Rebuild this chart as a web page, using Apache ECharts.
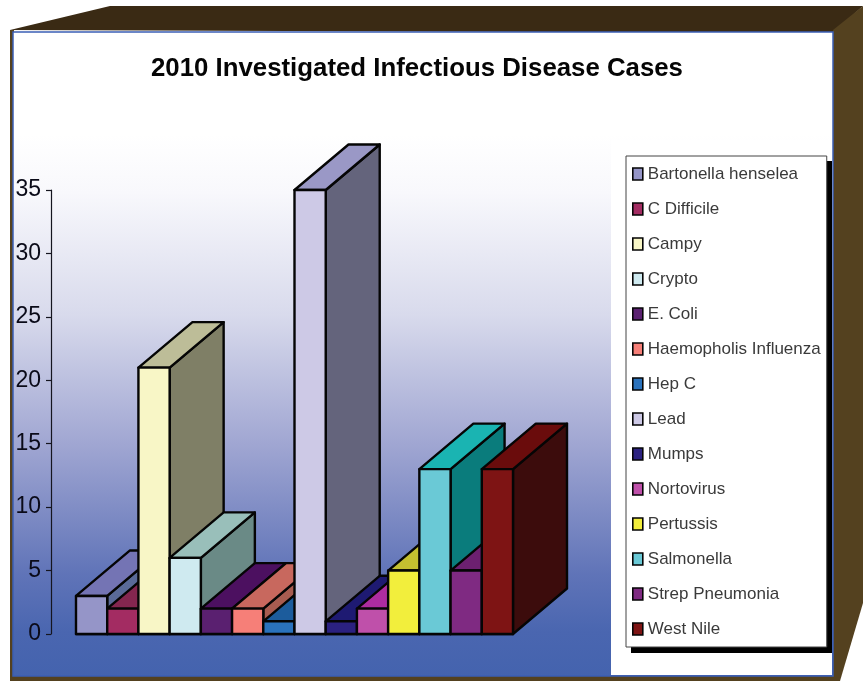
<!DOCTYPE html>
<html><head><meta charset="utf-8">
<style>html,body{margin:0;padding:0;background:#fff}#c{width:864px;height:681px}</style>
<script src="https://cdn.jsdelivr.net/npm/echarts@6/dist/echarts.min.js"></script>
</head><body><div id="c"></div>
<script>
const categories = ['Bartonella henselea','C Difficile','Campy','Crypto','E. Coli','Haemopholis Influenza','Hep C','Lead','Mumps','Nortovirus','Pertussis','Salmonella','Strep Pneumonia','West Nile'];
const values = [3,2,21,6,2,2,1,35,1,2,5,13,5,13];
const yTicks = {min:0,max:35,interval:5};
const frontColors = ['#9595c8','#a32c62','#f8f6c6','#cfeaf0','#5a2070','#f67f78','#2a72bc','#cdc9e6','#2b2180','#bf50aa','#f2ee3c','#6ac9d6','#7f2a82','#7e1414'];
const topColors   = ['#7474b4','#84264f','#bdbd98','#99bfba','#4c1060','#c8685e','#1c5c9c','#9a98c6','#1e1a72','#ad2ca0','#c4c030','#1ab4b2','#6c2070','#6a0c0c'];
const sideColors  = ['#5a6a98','#6b2040','#7f7f66','#6a8a86','#3c0c4c','#a85c50','#18508a','#64647c','#1a1660','#8a2480','#9c9828','#0a7c7c','#561a5a','#3c0c0c'];
const depthX = 54, depthY = 45.5;

const chart = echarts.init(document.getElementById('c'), null, {renderer:'canvas'});
const font = '"Liberation Sans", Arial, sans-serif';
function bar(params, api){
  const i = params.seriesIndex;
  const w = api.size([1,0])[0];
  const base = api.coord([api.value(0),0]);
  const top = api.coord([api.value(0),api.value(1)]);
  const l = base[0]-w/2, r = base[0]+w/2, b = base[1], t = top[1];
  const line = {stroke:'#050505',lineWidth:2.4,lineJoin:'round'};
  return {type:'group',children:[
    {type:'polygon',shape:{points:[[r,b],[r+depthX,b-depthY],[r+depthX,t-depthY],[r,t]]},style:Object.assign({fill:sideColors[i]},line)},
    {type:'polygon',shape:{points:[[l,t],[l+depthX,t-depthY],[r+depthX,t-depthY],[r,t]]},style:Object.assign({fill:topColors[i]},line)},
    {type:'polygon',shape:{points:[[l,b],[l,t],[r,t],[r,b]]},style:Object.assign({fill:frontColors[i]},line)}
  ]};
}
chart.setOption({
  animation:false,
  backgroundColor:'#fff',
  title:{text:'2010 Investigated Infectious Disease Cases',left:151,top:56,padding:0,
    textStyle:{fontFamily:font,fontWeight:'bold',fontSize:25.8,color:'#050505'}},
  grid:{left:76,top:190,width:437,height:444,containLabel:false},
  xAxis:{type:'category',data:categories,axisLine:{lineStyle:{color:'#050505',width:2.4}},axisTick:{show:false},axisLabel:{show:false},splitLine:{show:false}},
  yAxis:{type:'value',min:yTicks.min,max:yTicks.max,interval:yTicks.interval,offset:25,
    axisLine:{show:true,lineStyle:{color:'#15151f',width:1.2}},axisTick:{show:true,length:5,lineStyle:{color:'#15151f',width:1.2}},
    axisLabel:{margin:10,fontFamily:font,fontSize:23,color:'#0a0a18',padding:[2,0,0,0]},splitLine:{show:false}},
  legend:{orient:'vertical',left:626,top:156,padding:[9,6,9,6],itemGap:17,itemWidth:10,itemHeight:12,icon:'rect',
    backgroundColor:'#fff',borderColor:'#444',borderWidth:1,
    textStyle:{fontFamily:font,fontSize:17,color:'#3a3a3a',lineHeight:18},
    selectedMode:false,
    data:categories.map((n,i)=>({name:n,itemStyle:{color:frontColors[i],borderColor:'#050505',borderWidth:1.6}}))},
  series:categories.map((n,i)=>({type:'custom',name:n,renderItem:bar,clip:false,encode:{x:0,y:1},
    itemStyle:{color:frontColors[i]},data:[[i,values[i]]],z:2+i*0.01,silent:true})),
  graphic:{elements:[
    {type:'polygon',z:-10,shape:{points:[[10,30],[110,6],[863,6],[833,33]]},style:{fill:'#3a2a14'}},
    {type:'polygon',z:-10,shape:{points:[[863,6],[863,603],[840,681],[833,681],[833,30]]},style:{fill:'#54411f'}},
    {type:'rect',z:-10,shape:{x:10,y:30,width:4,height:651},style:{fill:'#54411f'}},
    {type:'rect',z:-10,shape:{x:10,y:676,width:830,height:5},style:{fill:'#54411f'}},
    {type:'rect',z:-9,shape:{x:13,y:32,width:820,height:644},style:{
      fill:new echarts.graphic.LinearGradient(0,0,0,1,[
        {offset:0,color:'#ffffff'},{offset:0.16,color:'#ffffff'},{offset:0.25,color:'#f8f8fc'},
        {offset:0.44,color:'#d8daec'},{offset:0.64,color:'#a0a6d2'},{offset:0.84,color:'#6074b8'},{offset:0.93,color:'#4a66b0'},{offset:1,color:'#4463ae'}]),
      stroke:'#3b5fb5',lineWidth:1.5}},
    {type:'rect',z:-8,shape:{x:611,y:140,width:221,height:535},style:{fill:'#fff'}},
    {type:'rect',z:-7,shape:{x:631,y:161,width:201,height:492},style:{fill:'#000'}}
  ]}
});
</script></body></html>
